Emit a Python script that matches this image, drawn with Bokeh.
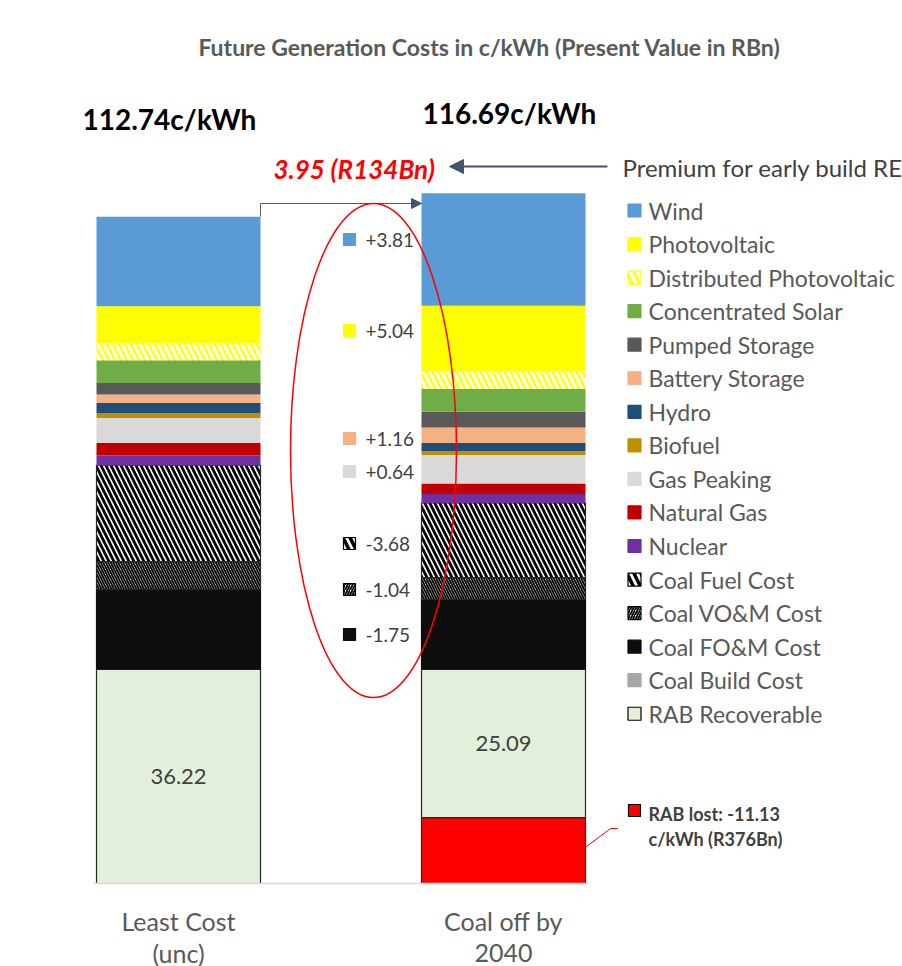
from bokeh.plotting import figure
from bokeh.models import Range1d, ColumnDataSource, Arrow, NormalHead
from bokeh.core.properties import value
from bokeh.embed import file_html
from bokeh.resources import INLINE

# ---------------- data ----------------
categories = ["Least Cost\n(unc)", "Coal off by\n2040"]
totals_labels = ["112.74c/kWh", "116.69c/kWh"]
series = ["Wind", "Photovoltaic", "Distributed Photovoltaic", "Concentrated Solar",
          "Pumped Storage", "Battery Storage", "Hydro", "Biofuel", "Gas Peaking",
          "Natural Gas", "Nuclear", "Coal Fuel Cost", "Coal VO&M Cost",
          "Coal FO&M Cost", "Coal Build Cost", "RAB Recoverable"]
least_cost = [15.15, 6.20, 2.93, 3.83, 1.97, 1.41, 1.69, 0.85, 4.23, 2.14, 1.63,
              16.29, 4.68, 13.52, 0.0, 36.22]
coal_off = [19.00, 11.17, 2.93, 3.83, 2.65, 2.62, 1.41, 0.62, 4.83, 1.80, 1.50,
            12.61, 3.70, 11.80, 0.0, 25.09]
rab_lost = [0.0, 11.13]
rab_lost_label = ["RAB lost: -11.13", "c/kWh (R376Bn)"]
premium_label = "3.95 (R134Bn)"
premium_text = "Premium for early build RE"
diff_series = ["Wind", "Photovoltaic", "Battery Storage", "Gas Peaking",
               "Coal Fuel Cost", "Coal VO&M Cost", "Coal FO&M Cost"]
diff_labels = ["+3.81", "+5.04", "+1.16", "+0.64", "-3.68", "-1.04", "-1.75"]
title = "Future Generation Costs in c/kWh (Present Value in RBn)"

# ---------------- styles ----------------
FONT = value("Lato")
style = {
    "Wind": dict(fill="#5B9BD5", hatch=" ", hc="white", hs=10, hw=1, lc="#5B9BD5", la=0),
    "Photovoltaic": dict(fill="#FFFF00", hatch=" ", hc="white", hs=10, hw=1, lc="#FFFF00", la=0),
    "Distributed Photovoltaic": dict(fill="#FFFF00", hatch="\\", hc="white", hs=12, hw=3, lc="#FFFF00", la=0),
    "Concentrated Solar": dict(fill="#70AD47", hatch=" ", hc="white", hs=10, hw=1, lc="#70AD47", la=0),
    "Pumped Storage": dict(fill="#595959", hatch=" ", hc="white", hs=10, hw=1, lc="#595959", la=0),
    "Battery Storage": dict(fill="#F4B183", hatch=" ", hc="white", hs=10, hw=1, lc="#F4B183", la=0),
    "Hydro": dict(fill="#1F4E79", hatch=" ", hc="white", hs=10, hw=1, lc="#1F4E79", la=0),
    "Biofuel": dict(fill="#BF8F00", hatch=" ", hc="white", hs=10, hw=1, lc="#BF8F00", la=0),
    "Gas Peaking": dict(fill="#D9D9D9", hatch=" ", hc="white", hs=10, hw=1, lc="#D9D9D9", la=0),
    "Natural Gas": dict(fill="#C00000", hatch=" ", hc="white", hs=10, hw=1, lc="#C00000", la=0),
    "Nuclear": dict(fill="#7030A0", hatch=" ", hc="white", hs=10, hw=1, lc="#7030A0", la=0),
    "Coal Fuel Cost": dict(fill="white", hatch="\\", hc="black", hs=10, hw=2.8, lc="#262626", la=1),
    "Coal VO&M Cost": dict(fill="white", hatch="\\", hc="black", hs=5, hw=1.8, lc="#262626", la=1),
    "Coal FO&M Cost": dict(fill="#0D0D0D", hatch=" ", hc="white", hs=10, hw=1, lc="#0D0D0D", la=1),
    "Coal Build Cost": dict(fill="#A6A6A6", hatch=" ", hc="white", hs=10, hw=1, lc="#A6A6A6", la=0),
    "RAB Recoverable": dict(fill="#E2EFDA", hatch=" ", hc="white", hs=10, hw=1, lc="#262626", la=1),
    "RAB lost": dict(fill="#FF0000", hatch=" ", hc="white", hs=10, hw=1, lc="#262626", la=1),
}
# small-icon hatch overrides (legend squares)
icon_hatch = {
    "Distributed Photovoltaic": dict(hatch="\\", hs=14, hw=3.5, lc="#FFFF00"),
    "Coal Fuel Cost": dict(hatch="\\", hs=14, hw=3.5, lc="black"),
    "Coal VO&M Cost": dict(hatch="/", hs=5, hw=1.8, lc="black"),
}

# pixel -> data helpers (layout only)
PX_PER_X = 325.0
X0_PX = 178.0
PX_PER_Y = 5.915
BASE_PX = 883.0
def dx(px):
    return (px - X0_PX) / PX_PER_X
def dy(py):
    return (BASE_PX - py) / PX_PER_Y

W, H = 902, 966
p = figure(width=W, height=H, output_backend="svg", toolbar_location=None,
           x_range=Range1d(dx(0), dx(W)), y_range=Range1d(dy(H), dy(0)),
           x_axis_location=None, y_axis_location=None, min_border=0,
           background_fill_color="white", border_fill_color="white")
p.outline_line_color = None
p.xgrid.visible = False
p.ygrid.visible = False

BAR_W = 164.0 / PX_PER_X

# ---------------- stacked bars ----------------
rows = dict(x=[], bottom=[], top=[], fill=[], hatch=[], hc=[], hs=[], hw=[], lc=[], la=[])
def add_seg(xi, b, t, name):
    s = style[name]
    rows["x"].append(xi); rows["bottom"].append(b); rows["top"].append(t)
    rows["fill"].append(s["fill"]); rows["hatch"].append(s["hatch"])
    rows["hc"].append(s["hc"]); rows["hs"].append(s["hs"]); rows["hw"].append(s["hw"])
    rows["lc"].append(s["lc"]); rows["la"].append(s["la"])

seg_bounds = {}
for xi, vals in enumerate([least_cost, coal_off]):
    base = rab_lost[xi]
    if rab_lost[xi] > 0:
        add_seg(xi, 0.0, rab_lost[xi], "RAB lost")
    for name, v in reversed(list(zip(series, vals))):
        if v > 0:
            add_seg(xi, base, base + v, name)
        seg_bounds[(xi, name)] = (base, base + v)
        base += v

src = ColumnDataSource(rows)
p.vbar(x="x", width=BAR_W, bottom="bottom", top="top", source=src,
       fill_color="fill", hatch_pattern="hatch", hatch_color="hc",
       hatch_scale="hs", hatch_weight="hw", line_color="lc", line_alpha="la",
       line_width=1.2)

# baseline
p.line([dx(93), dx(588)], [0, 0], line_color="#D9D9D9", line_width=1.5)

# RAB value labels
for xi, vals in enumerate([least_cost, coal_off]):
    b, t = seg_bounds[(xi, "RAB Recoverable")]
    p.text([xi], [(b + t) / 2], text=["%.2f" % vals[-1]], text_font=FONT,
           text_font_size="22px", text_color="#404040", text_align="center",
           text_baseline="middle")

# category labels
for xi, cat in enumerate(categories):
    lines = cat.split("\n")
    for li, ln in enumerate(lines):
        p.text([xi], [dy(920 + 32 * li)], text=[ln], text_font=FONT,
               text_font_size="25px", text_color="#595959", text_align="center",
               text_baseline="middle")

# title
p.text([dx(489)], [dy(46)], text=[title], text_font=FONT, text_font_size="23px",
       text_font_style="bold", text_color="#595959", text_align="center",
       text_baseline="middle")

# totals
tot_pos = [(82, 118), (422, 112)]
for (tx, ty), lab in zip(tot_pos, totals_labels):
    p.text([dx(tx)], [dy(ty)], text=[lab], text_font=FONT, text_font_size="28px",
           text_font_style="bold", text_color="black", text_align="left",
           text_baseline="middle")

# premium annotation
p.text([dx(273)], [dy(168)], text=[premium_label], text_font=FONT,
       text_font_size="26px", text_font_style="bold italic", text_color="#FF0000",
       text_align="left", text_baseline="middle")
p.text([dx(622)], [dy(167)], text=[premium_text], text_font=FONT,
       text_font_size="24px", text_color="#404040", text_align="left",
       text_baseline="middle")
p.add_layout(Arrow(x_start=dx(607), y_start=dy(166), x_end=dx(449), y_end=dy(166),
                   line_color="#44546A", line_width=2,
                   end=NormalHead(size=14, fill_color="#44546A", line_color="#44546A")))

# connector from left total to right bar
left_total = sum(least_cost)
p.line([0 + BAR_W / 2, 0 + BAR_W / 2, dx(410)], [left_total, dy(203), dy(203)],
       line_color="#595959", line_width=1)
p.add_layout(Arrow(x_start=dx(405), y_start=dy(203), x_end=1 - BAR_W / 2, y_end=dy(203),
                   line_color="#595959", line_width=1,
                   end=NormalHead(size=10, fill_color="#44546A", line_color="#44546A")))

def icon(xp, yp, name, size):
    s = style[name]
    ih = icon_hatch.get(name, dict(hatch=s["hatch"], hs=10, hw=1,
                                   lc=("black" if s["la"] and name not in ("Coal FO&M Cost",) else s["fill"])))
    p.rect([dx(xp)], [dy(yp)], width=size, height=size, width_units="screen",
           height_units="screen", fill_color=s["fill"], hatch_pattern=ih["hatch"],
           hatch_color=s["hc"], hatch_scale=ih["hs"], hatch_weight=ih["hw"],
           line_color=ih["lc"], line_width=1.2)

# diff labels
diff_y = [239, 330, 438, 471, 543, 589, 634]
for name, lab, yy in zip(diff_series, diff_labels, diff_y):
    icon(349, yy, name, 12)
    p.text([dx(365)], [dy(yy)], text=[lab], text_font=FONT, text_font_size="19px",
           text_color="#404040", text_align="left", text_baseline="middle")

# red ellipse
p.ellipse([dx(373)], [dy(450)], width=166, height=494, width_units="screen",
          height_units="screen", fill_color=None, line_color="#FF0000", line_width=1.5)

# legend
leg_y0, leg_dy = 210, 33.55
for i, name in enumerate(series):
    yy = leg_y0 + i * leg_dy
    icon(634, yy, name, 13)
    p.text([dx(648)], [dy(yy)], text=[name], text_font=FONT, text_font_size="23px",
           text_color="#595959", text_align="left", text_baseline="middle")

# RAB lost annotation
p.rect([dx(634)], [dy(810)], width=12, height=12, width_units="screen",
       height_units="screen", fill_color="#FF0000", line_color="black", line_width=1.2)
for li, ln in enumerate(rab_lost_label):
    p.text([dx(648)], [dy(813 + 25 * li)], text=[ln], text_font=FONT,
           text_font_size="18px", text_font_style="bold", text_color="#404040",
           text_align="left", text_baseline="middle")
lost_mid = rab_lost[1] * 0.55
p.line([1 + BAR_W / 2, dx(610), dx(617)], [lost_mid, dy(828), dy(828)],
       line_color="#FF0000", line_width=1)

open("out.html", "w").write(file_html(p, INLINE))
